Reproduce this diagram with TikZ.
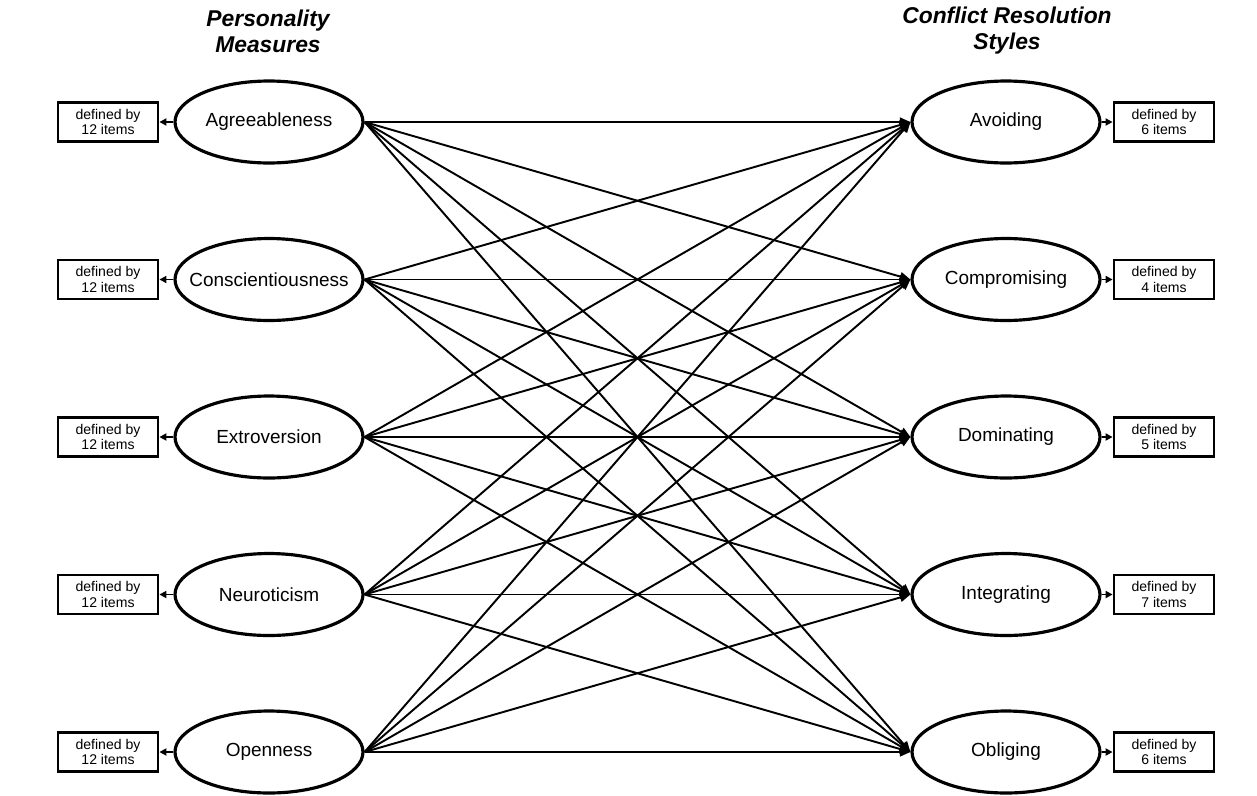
\documentclass[tikz,border=0pt]{standalone}
\usepackage{fontspec}
\setmainfont{Liberation Sans}
\usetikzlibrary{shapes.geometric, arrows.meta, positioning}

\begin{document}
\begin{tikzpicture}[
    x=0.02cm, y=-0.02cm,
    latent/.style={ellipse, draw=black, line width=1.8pt, fill=white,
                   minimum width=3.76cm, minimum height=1.64cm,
                   inner xsep=-0.3cm, inner ysep=0pt,
                   font=\fontsize{10.8}{12}\selectfont},
    itembox/.style={rectangle, draw=black, line width=1.6pt,
                    minimum width=2cm, minimum height=0.78cm, inner sep=0pt,
                    align=center, font=\fontsize{8}{9}\selectfont},
    regpath/.style={-{Triangle[length=6pt,width=5pt]}, line width=1.1pt},
    defarrow/.style={-{Triangle[length=4pt,width=4pt]}, line width=1.1pt},
    heading/.style={font=\fontsize{13}{14.8}\selectfont\bfseries\itshape,
                    align=center},
]
\useasboundingbox (0,0) rectangle (1257,795);

% ======================================================
% Left: personality measures, each defined by its items
% ======================================================
\node[heading] (hp) at (268, 31) {Personality\\Measures};
\foreach \name [count=\i from 0] in
    {Agreeableness, Conscientiousness, Extroversion, Neuroticism, Openness} {
    \node[latent] (p\i) at (269, 122+157.5*\i) {\name};
    \node[itembox] (pb\i) at (108, 122+157.5*\i) {defined by\\12 items};
    \draw[defarrow] (p\i.west) -- (pb\i.east);
}

% ======================================================
% Right: conflict resolution styles
% ======================================================
\node[heading] (hc) at (1007, 31) {Conflict Resolution\\Styles};
\foreach \name/\n [count=\i from 0] in
    {Avoiding/6, Compromising/4, Dominating/5, Integrating/7, Obliging/6} {
    \node[latent] (c\i) at (1006, 122+157.5*\i) {\name};
    \node[itembox] (cb\i) at (1164, 122+157.5*\i) {defined by\\\n\ items};
    \draw[defarrow] (c\i.east) -- (cb\i.west);
}

% every measure predicts every style
\foreach \i in {0,...,4} {
  \foreach \j in {0,...,4} {
    \draw[regpath] (p\i.east) -- (c\j.west);
  }
}

\end{tikzpicture}
\end{document}
